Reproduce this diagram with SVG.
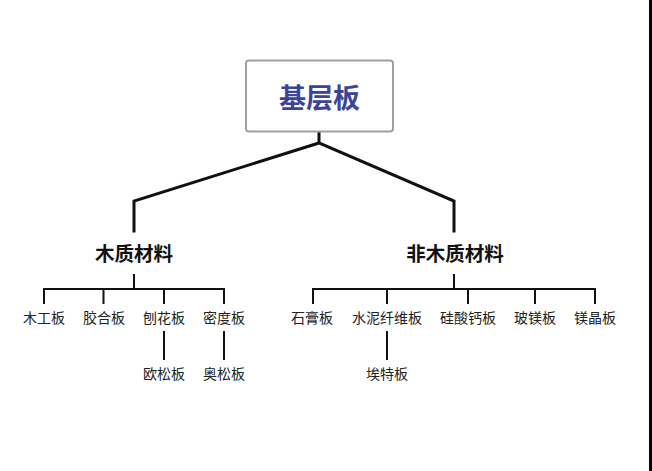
<svg xmlns="http://www.w3.org/2000/svg" width="652" height="471" viewBox="0 0 652 471">
<style>
.conn{fill:none;stroke:#111;stroke-linecap:square;stroke-linejoin:miter}
.thick{stroke-width:3}
.thin{stroke-width:2}
.leaf{font-family:"Noto Sans CJK SC","Noto Sans CJK JP",sans-serif;font-size:14px;fill:#222;text-anchor:middle}
.cat{font-family:"Noto Sans CJK SC","Noto Sans CJK JP",sans-serif;font-size:19.5px;font-weight:bold;fill:#111;text-anchor:middle}
.root{font-family:"Noto Sans CJK SC","Noto Sans CJK JP",sans-serif;font-size:27px;font-weight:bold;fill:#3b4597;text-anchor:middle}
</style>
<rect width="652" height="471" fill="#fff"/>
<rect x="649" y="0" width="3" height="471" fill="#000"/>
<g id="connectors">
<path class="conn thick" d="M319 130 V143 M319 143 L134 201 V231 M319 143 L454 201 V231"/>
<path class="conn thin" d="M134 275 V289 M44 303 V289 H224 V303 M103.5 289 V303 M164 289 V303 M164 332 V359 M224 332 V359"/>
<path class="conn thin" d="M454 275 V289 M313 303 V289 H595 V303 M387 289 V303 M468 289 V303 M535 289 V303 M387 332 V359"/>
</g>
<g id="root">
<rect x="246" y="60.5" width="147" height="71" rx="3" fill="#fff" stroke="#a0a0a0" stroke-width="2"/>
<text class="root" x="319.5" y="108">基层板</text>
</g>
<g id="wood"><text class="cat" x="134" y="261">木质材料</text></g>
<g id="nonwood"><text class="cat" x="455" y="261">非木质材料</text></g>
<g id="n1"><text class="leaf" x="44" y="323">木工板</text></g>
<g id="n2"><text class="leaf" x="104" y="323">胶合板</text></g>
<g id="n3"><text class="leaf" x="164" y="323">刨花板</text></g>
<g id="n4"><text class="leaf" x="224" y="323">密度板</text></g>
<g id="n5"><text class="leaf" x="164" y="379">欧松板</text></g>
<g id="n6"><text class="leaf" x="224" y="379">奥松板</text></g>
<g id="n7"><text class="leaf" x="312" y="323">石膏板</text></g>
<g id="n8"><text class="leaf" x="387" y="323">水泥纤维板</text></g>
<g id="n9"><text class="leaf" x="468" y="323">硅酸钙板</text></g>
<g id="n10"><text class="leaf" x="535" y="323">玻镁板</text></g>
<g id="n11"><text class="leaf" x="595" y="323">镁晶板</text></g>
<g id="n12"><text class="leaf" x="387" y="379">埃特板</text></g>
</svg>
